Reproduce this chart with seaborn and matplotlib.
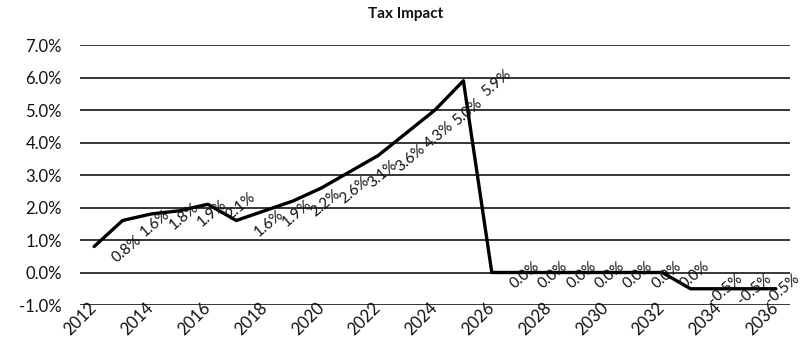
import matplotlib
matplotlib.use("Agg")
import matplotlib.pyplot as plt
import matplotlib.transforms as mtransforms
import seaborn as sns
import pandas as pd
from matplotlib.ticker import FuncFormatter

years = list(range(2012, 2037))
tax_impact = [0.8, 1.6, 1.8, 1.9, 2.1, 1.6, 1.9, 2.2, 2.6, 3.1, 3.6, 4.3, 5.0, 5.9,
              0.0, 0.0, 0.0, 0.0, 0.0, 0.0, 0.0, -0.5, -0.5, -0.5, -0.5]
tick_years = list(range(2012, 2037, 2))
title = "Tax Impact"

df = pd.DataFrame({"year": years, "impact": tax_impact})

sns.set_theme(style="white")
plt.rcParams["font.family"] = ["Lato", "DejaVu Sans"]

fig = plt.figure(figsize=(8.12, 3.40), dpi=100)
ax = fig.add_axes([80 / 812, 1 - 305 / 340, 710 / 812, 260 / 340])

sns.lineplot(data=df, x="year", y="impact", ax=ax, color="black", linewidth=2.4)

ax.set_xlim(2011.5, 2036.5)
ax.set_ylim(-1.0, 7.0)
ax.set_yticks([-1, 0, 1, 2, 3, 4, 5, 6, 7])
ax.yaxis.set_major_formatter(FuncFormatter(lambda v, p: f"{v:.1f}%"))
ax.set_xticks(tick_years)
ax.set_xticklabels([str(y) for y in tick_years], rotation=45, ha="right",
                   va="center", rotation_mode="anchor")
shift = mtransforms.ScaledTranslation(0.07, 0.0, fig.dpi_scale_trans)
for lbl in ax.get_xticklabels():
    lbl.set_transform(lbl.get_transform() + shift)
ax.grid(axis="y", color="black", linewidth=1.1)
ax.grid(axis="x", visible=False)
for s in ax.spines.values():
    s.set_visible(False)
ax.tick_params(axis="y", length=0, pad=13, labelsize=12, colors="#111111")
ax.tick_params(axis="x", length=0, pad=0, labelsize=12, colors="#111111")
ax.set_xlabel("")
ax.set_ylabel("")

for yr, v in zip(years[:-1], tax_impact[:-1]):
    ax.annotate(f"{v:.1f}%", xy=(yr, v), xytext=(20, -13), textcoords="offset pixels",
                ha="left", va="center", rotation=40, rotation_mode="anchor",
                fontsize=11, color="#111111", annotation_clip=False)

fig.text(0.5, 1 - 14 / 340, title, ha="center", va="center", fontsize=11,
         fontweight="bold", color="#111111")

fig.savefig("out.png", dpi=100, facecolor="white")
